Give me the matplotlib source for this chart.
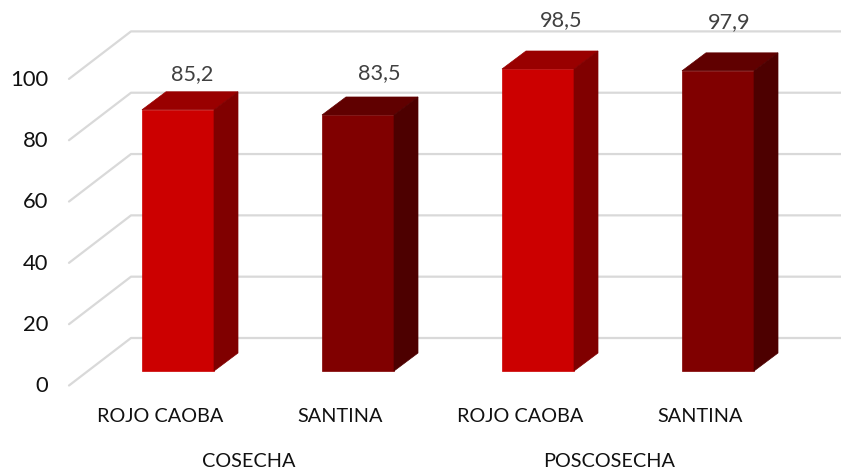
import matplotlib
matplotlib.use("Agg")
import matplotlib.pyplot as plt
from matplotlib.patches import Polygon

plt.rcParams["font.family"] = ["Lato", "DejaVu Sans"]

# data
varieties = ["ROJO CAOBA", "SANTINA", "ROJO CAOBA", "SANTINA"]
stages = ["COSECHA", "POSCOSECHA"]
values = [85.2, 83.5, 98.5, 97.9]
value_labels = ["85,2", "83,5", "98,5", "97,9"]
y_ticks = [0, 20, 40, 60, 80, 100]

# pixel scale of the drawing
px_x = 180.0
px_y = 3.066
W, H = 841, 471
base_px = 371

# oblique offsets in data units
depth_x = 24 / px_x
depth_y = 18 / px_y
bar_w = 72 / px_x
floor_x = 62 / px_x
floor_y = 47.5 / px_y
front_x = -109 / px_x   # left end of the front grid edge
front_y = -14.5 / px_y

light = ("#CC0000", "#990000", "#800000")
dark = ("#800000", "#600000", "#4D0000")
bar_colours = [light, dark, light, dark]

fig = plt.figure(figsize=(W / 100, H / 100), dpi=100)
ax = fig.add_axes([0, 0, 1, 1])
ax.set_xlim(-178 / px_x, (W - 178) / px_x)
ax.set_ylim(-(H - base_px) / px_y, base_px / px_y)
ax.axis("off")

# floor / wall grid
for t in y_ticks:
    xs = [front_x, front_x + floor_x, (W - 178) / px_x]
    ys = [front_y + t, front_y + floor_y + t, front_y + floor_y + t]
    ax.plot(xs, ys, color="#D9D9D9", lw=1.6, zorder=1, solid_capstyle="round")
    ax.text(48 / px_x + ax.get_xlim()[0], front_y + t - 0.3, str(t), ha="right", va="center",
            fontsize=15.8, color="#111111")

# bars
for i, v in enumerate(values):
    l = i - bar_w / 2
    r = i + bar_w / 2
    c = bar_colours[i]
    ax.add_patch(Polygon([(l, 0), (r, 0), (r, v), (l, v)], fc=c[0], ec=c[0], lw=0.5, zorder=3))
    ax.add_patch(Polygon([(l, v), (r, v), (r + depth_x, v + depth_y), (l + depth_x, v + depth_y)],
                         fc=c[1], ec=c[1], lw=0.5, zorder=3))
    ax.add_patch(Polygon([(r, 0), (r + depth_x, depth_y), (r + depth_x, v + depth_y), (r, v)],
                         fc=c[2], ec=c[2], lw=0.5, zorder=3))

# value labels, each one sits a bit differently above its bar
label_dx = [14 / px_x, 21 / px_x, 23 / px_x, 11 / px_x]
label_dy = [36 / px_y, 42 / px_y, 48.5 / px_y, 48.5 / px_y]
for i, v in enumerate(values):
    ax.text(i + label_dx[i], v + label_dy[i], value_labels[i], ha="center", va="center",
            fontsize=15.6, color="#404040")

# category labels
for i, name in enumerate(varieties):
    ax.text(i - 18 / px_x, -45 / px_y, name, ha="center", va="center", fontsize=14.3, color="#111111")
for i, name in enumerate(stages):
    ax.text(2 * i + 71 / px_x, -90.5 / px_y, name, ha="center", va="center", fontsize=14.3,
            color="#111111")

fig.savefig("out.png", dpi=100)
